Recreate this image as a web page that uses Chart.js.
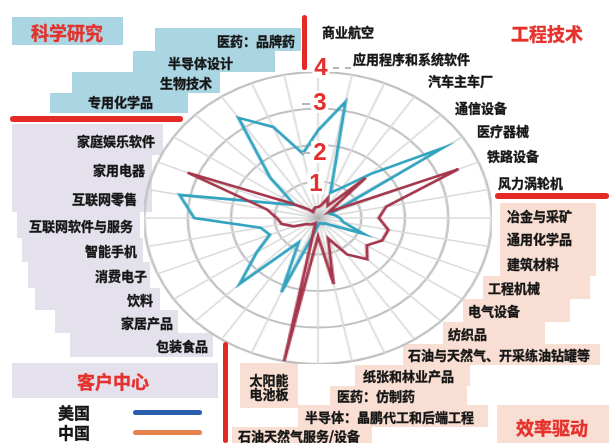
<!DOCTYPE html>
<html>
<head>
<meta charset="utf-8">
<script src="https://cdn.jsdelivr.net/npm/chart.js@4/dist/chart.umd.min.js"></script>
<style>
  html, body { margin: 0; padding: 0; background: #fff; }
  #page { position: relative; width: 609px; height: 443px; overflow: hidden; background: #fff; }
  .box { position: absolute; }
  .bar { position: absolute; background: #e42a24; border-radius: 3px; }
  .dash { position: absolute; z-index: 3; border-top: 2px dashed #b8b8b8; height: 0; }
  .lbl {
    position: absolute; z-index: 3; white-space: pre; line-height: 18px;
    font: 700 13px "Noto Sans CJK SC", sans-serif; color: #151515;
    -webkit-text-stroke: 0.35px #151515;
  }
  .title {
    position: absolute; z-index: 3; transform: translate(-50%, -50%); white-space: nowrap;
    font: 700 18px "Noto Sans CJK SC", sans-serif; color: #e5322d;
    -webkit-text-stroke: 0.4px #e5322d;
  }
  .tick {
    position: absolute; z-index: 3; transform: translate(-50%, -50%);
    font: 700 24px "Liberation Sans", Arial, sans-serif; color: #e3302c;
    background: #fff; padding: 0 2px; line-height: 22px;
  }
  #chartWrap {
    position: absolute; z-index: 2; left: 172px; top: 72px; width: 292px; height: 292px;
    transform: scaleX(1.19); transform-origin: 146px 146px;
  }
</style>
</head>
<body>
<div id="page">
  <div id="chartWrap"><canvas id="radar"></canvas></div>
</div>
<script>
// categories, clockwise from the top
const categories = [
  "商业航空", "应用程序和系统软件", "汽车主车厂", "通信设备", "医疗器械", "铁路设备", "风力涡轮机",
  "冶金与采矿", "通用化学品", "建筑材料", "工程机械", "电气设备", "纺织品",
  "石油与天然气、开采练油钻罐等", "纸张和林业产品", "医药：仿制药", "半导体：晶鹏代工和后端工程",
  "石油天然气服务/设备", "太阳能\n电池板",
  "包装食品", "家居产品", "饮料", "消费电子", "智能手机", "互联网软件与服务", "互联网零售",
  "家用电器", "家庭娱乐软件",
  "专用化学品", "生物技术", "半导体设计", "医药：品牌药"
];

const usValues = [
  2.4, 3.25, 0.75, 1.0, 1.7, 3.45, 0.3,
  0.4, 0.5, 0.6, 1.15, 0.35, 0.2,
  0.2, 0.15, 0.15, 0.2, 0.4, 2.2,
  0.8, 2.55, 1.7, 1.2, 1.35, 2.85, 3.25,
  1.05, 0.65,
  1.55, 3.3, 2.7, 1.8
];

const cnValues = [
  0.3, 0.35, 0.6, 0.4, 1.55, 0.3, 3.5,
  1.6, 1.4, 1.65, 1.6, 1.35, 1.6,
  1.2, 0.6, 1.85, 0.5, 4.0, 0.15,
  0.2, 0.25, 0.3, 0.6, 0.85, 0.95, 1.2,
  3.25, 0.7,
  0.35, 0.2, 0.25, 0.3
];

const tickLabels = ["1", "2", "3", "4"];
const groupTitles = ["科学研究", "工程技术", "效率驱动", "客户中心"];
const seriesNames = ["美国", "中国"];

// ---- layout (positions only) ----
// [x, centerY, anchor]
const labelPos = [
  [322, 31, "left"], [353, 58, "left"], [428, 80, "left"], [455, 107, "left"],
  [477, 130, "left"], [487, 155, "left"], [498, 182, "left"],
  [507, 215, "left"], [507, 238, "left"], [507, 263, "left"], [488, 287, "left"],
  [468, 310, "left"], [448, 333, "left"], [408, 354, "left"], [363, 375, "left"],
  [337, 395, "left"], [305, 416, "left"], [238, 435, "left"], [269, 387, "center"],
  [208, 345, "right"], [173, 322, "right"], [153, 299, "right"], [147, 275, "right"],
  [137, 250, "right"], [133, 225, "right"], [137, 198, "right"], [145, 169, "right"],
  [155, 140, "right"],
  [153, 101, "right"], [212, 82, "right"], [233, 62, "right"], [295, 40, "right"]
];
const titlePos = [[67, 32], [547, 33], [552, 427], [113, 381]];
const tickPos = [[316, 183], [320, 152], [320, 102], [321, 67]];
const dashes = [[333, 67, 18], [302, 103, 8], [302, 152, 8]];

const boxes = [
  [12, 17, 111, 28, "#aad5e3"], [155, 28, 146, 23, "#aad5e3"], [133, 51, 142, 21, "#aad5e3"],
  [72, 72, 148, 21, "#aad5e3"], [50, 93, 138, 20, "#aad5e3"],
  [12, 124, 151, 31, "#e4e1ec"], [12, 155, 140, 57, "#e4e1ec"], [17, 212, 123, 26, "#e4e1ec"],
  [22, 238, 121, 24, "#e4e1ec"], [28, 262, 122, 26, "#e4e1ec"], [35, 288, 125, 22, "#e4e1ec"],
  [55, 310, 123, 23, "#e4e1ec"], [70, 333, 143, 24, "#e4e1ec"], [12, 363, 206, 35, "#e4e1ec"],
  [500, 203, 96, 73, "#f9dfd3"], [483, 276, 107, 23, "#f9dfd3"], [463, 299, 107, 23, "#f9dfd3"],
  [443, 322, 102, 22, "#f9dfd3"], [403, 344, 197, 21, "#f9dfd3"], [355, 365, 115, 21, "#f9dfd3"],
  [330, 386, 137, 19, "#f9dfd3"], [298, 405, 190, 22, "#f9dfd3"], [232, 427, 140, 16, "#f9dfd3"],
  [240, 363, 58, 45, "#f9dfd3"], [497, 405, 112, 38, "#f9dfd3"]
];
const redBars = [[302, 15, 5, 55], [10, 116, 173, 6], [495, 193, 114, 6], [223, 342, 5, 101]];

const page = document.getElementById("page");

function addDiv(cls, css, text) {
  const el = document.createElement("div");
  el.className = cls;
  Object.assign(el.style, css);
  if (text !== undefined) el.textContent = text;
  page.appendChild(el);
  return el;
}

boxes.forEach(([x, y, w, h, c]) => addDiv("box", { left: x + "px", top: y + "px", width: w + "px", height: h + "px", background: c }));
redBars.forEach(([x, y, w, h]) => addDiv("bar", { left: x + "px", top: y + "px", width: w + "px", height: h + "px", zIndex: 3 }));
dashes.forEach(([x, y, w]) => addDiv("dash", { left: x + "px", top: y + "px", width: w + "px" }));

categories.forEach((name, i) => {
  const [x, y, anchor] = labelPos[i];
  const lines = name.split("\n").length;
  const css = { top: (y - 9 * lines) + "px" };
  if (anchor === "right") css.right = (609 - x) + "px";
  else if (anchor === "center") { css.left = x + "px"; css.transform = "translateX(-50%)"; css.textAlign = "center"; css.lineHeight = "14px"; css.top = (y - 14) + "px"; }
  else css.left = x + "px";
  addDiv("lbl", css, name);
});

groupTitles.forEach((t, i) => addDiv("title", { left: titlePos[i][0] + "px", top: titlePos[i][1] + "px" }, t));
tickLabels.forEach((t, i) => addDiv("tick", { left: tickPos[i][0] + "px", top: tickPos[i][1] + "px" }, t));

// legend
const legendColors = ["#2b5fad", "#e8834f"];
seriesNames.forEach((n, i) => {
  const cy = 412 + i * 20;
  addDiv("lbl", { left: "58px", top: (cy - 11) + "px", fontSize: "16px", lineHeight: "22px" }, n);
  addDiv("bar", { left: "133px", top: (cy - 2) + "px", width: "69px", height: "5px", background: legendColors[i] });
});

const centerGlow = {
  id: "centerGlow",
  beforeDatasetsDraw(chart) {
    const s = chart.scales.r;
    const ctx = chart.ctx;
    const g = ctx.createRadialGradient(s.xCenter, s.yCenter, 0, s.xCenter, s.yCenter, 11);
    g.addColorStop(0, "rgba(165,165,165,0.9)");
    g.addColorStop(1, "rgba(200,200,200,0)");
    ctx.save();
    ctx.fillStyle = g;
    ctx.beginPath();
    ctx.arc(s.xCenter, s.yCenter, 11, 0, Math.PI * 2);
    ctx.fill();
    ctx.restore();
  }
};

new Chart(document.getElementById("radar"), {
  type: "radar",
  data: {
    labels: categories,
    datasets: [
      { label: seriesNames[1], data: cnValues, borderColor: "#a4374c", borderWidth: 2.6, pointRadius: 0, fill: false },
      { label: seriesNames[0], data: usValues, borderColor: "#33a4c0", borderWidth: 2.6, pointRadius: 0, fill: false }
    ]
  },
  options: {
    responsive: true,
    maintainAspectRatio: false,
    animation: false,
    layout: { padding: 0 },
    plugins: { legend: { display: false }, tooltip: { enabled: false } },
    elements: { line: { tension: 0 } },
    scales: {
      r: {
        min: 0,
        max: 4,
        ticks: { stepSize: 1, display: false },
        pointLabels: { display: false },
        grid: { circular: true, color: "#c0c0c0", lineWidth: 2 },
        angleLines: { color: "#dadada", lineWidth: 1.5 }
      }
    }
  },
  plugins: [centerGlow]
});
</script>
</body>
</html>
